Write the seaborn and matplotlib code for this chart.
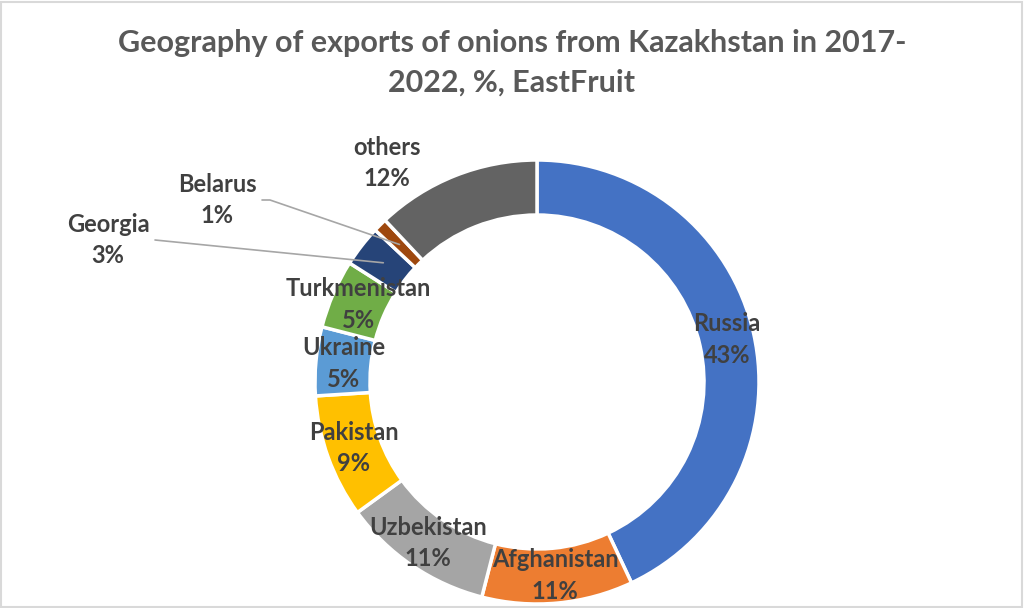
import matplotlib
matplotlib.use("Agg")
import matplotlib.pyplot as plt
import seaborn as sns
import numpy as np
from matplotlib.patches import Rectangle

categories = ["Russia", "Afghanistan", "Uzbekistan", "Pakistan", "Ukraine",
              "Turkmenistan", "Georgia", "Belarus", "others"]
values = [43, 11, 11, 9, 5, 5, 3, 1, 12]
colors = ["#4472C4", "#ED7D31", "#A5A5A5", "#FFC000", "#5B9BD5",
          "#70AD47", "#264478", "#9E480E", "#636363"]
title = "Geography of exports of onions from Kazakhstan in 2017-\n2022, %, EastFruit"

sns.set_theme(style="white")
plt.rcParams['font.family'] = ['Lato', 'DejaVu Sans']

fig = plt.figure(figsize=(10.24, 6.08), dpi=100)
ax = fig.add_axes([0, 0, 1, 1])

cx, cy = 537, 608 - 382
R = 222
W = 55
wedges, _ = ax.pie(values, colors=colors, startangle=90, counterclock=False,
                   center=(cx, cy), radius=R, frame=True,
                   wedgeprops=dict(width=W, edgecolor="white", linewidth=2.5))
ax.set_xlim(0, 1024)
ax.set_ylim(0, 608)
ax.set_aspect("equal")
ax.axis("off")

label_color = "#404040"
rmid = R - W / 2
total = sum(values)
cum = 0
outside = {"Georgia": (108, 608 - 240, 155, 608 - 240),
           "Belarus": (217, 608 - 200, 262, 608 - 200),
           "others": (387, 608 - 163, None, None)}
for name, v in zip(categories, values):
    mid = (cum + v / 2) / total
    cum += v
    ang = np.deg2rad(90 - mid * 360)
    px, py = cx + rmid * np.cos(ang), cy + rmid * np.sin(ang)
    txt = f"{name}\n{v}%"
    if name in outside:
        lx, ly, sx, sy = outside[name]
        ax.text(lx, ly, txt, ha="center", va="center", fontsize=17,
                fontweight="bold", color=label_color, linespacing=1.45)
        if sx is not None:
            if name == "Belarus":
                ax.plot([sx, sx + 8, px], [sy, sy, py], color="#A6A6A6", lw=1.2)
            else:
                ax.plot([sx, px], [sy, py], color="#A6A6A6", lw=1.2)
    else:
        ax.text(px, py, txt, ha="center", va="center", fontsize=17,
                fontweight="bold", color=label_color, linespacing=1.45)

fig.text(0.5, 1 - 63 / 608, title, ha="center", va="center", fontsize=22,
         fontweight="bold", color="#595959", linespacing=1.5)

fig.patches.append(Rectangle((0.001, 0.002), 0.997, 0.995, transform=fig.transFigure,
                             fill=False, edgecolor="#D9D9D9", linewidth=1.5))

fig.savefig("out.png", dpi=100, facecolor="white")
